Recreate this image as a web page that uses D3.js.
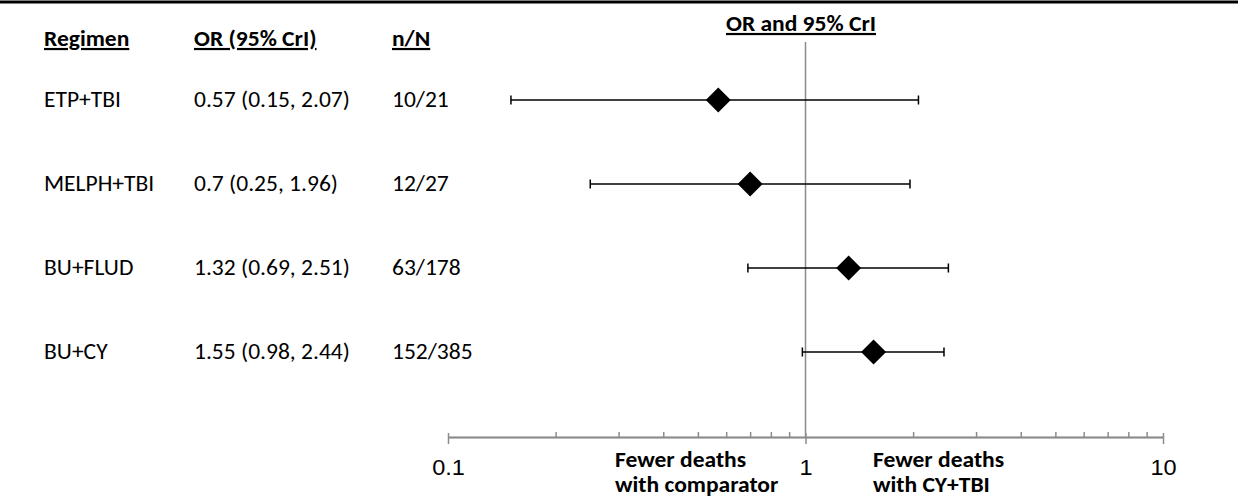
<!DOCTYPE html>
<html>
<head>
<meta charset="utf-8">
<script src="https://cdn.jsdelivr.net/npm/d3@7"></script>
<style>
  body { margin: 0; background: #fff; }
  svg { display: block; font-family: Carlito, Lato, "Open Sans", sans-serif; }
</style>
</head>
<body>
<svg id="chart" width="1238" height="502"></svg>
<script>
// Data
const regimens = ['ETP+TBI', 'MELPH+TBI', 'BU+FLUD', 'BU+CY'];
const oddsRatios = [0.57, 0.7, 1.32, 1.55];
const lowerCrI = [0.15, 0.25, 0.69, 0.98];
const upperCrI = [2.07, 1.96, 2.51, 2.44];
const nOverN = ['10/21', '12/27', '63/178', '152/385'];
const majorTicks = [0.1, 1, 10];
const minorTicks = [0.2, 0.3, 0.4, 0.5, 0.6, 0.7, 0.8, 0.9, 2, 3, 4, 5, 6, 7, 8, 9];

const rows = regimens.map((r, i) => ({
  regimen: r, or: oddsRatios[i], lo: lowerCrI[i], hi: upperCrI[i], n: nOverN[i]
}));

const W = 1238;
const svg = d3.select('#chart');
const fs = 22;
const sx = 1.07; // the source text is a touch wide for its height

const x = d3.scaleLog().domain([0.1, 10]).range([448, 1163]);
const y = d3.scalePoint().domain(regimens).range([100, 352]);
const axisY = 437;
const grey = '#8c8c8c';

// helper: slightly stretched text placed by a transform
function label(sel, tx, ty, txt, bold, anchor) {
  return sel.append('text')
    .attr('transform', `translate(${tx},${ty}) scale(${sx},1)`)
    .attr('font-size', fs)
    .attr('font-weight', bold ? 'bold' : null)
    .attr('text-anchor', anchor || 'start')
    .text(txt);
}

// top rule
svg.append('line')
  .attr('x1', 0).attr('x2', W).attr('y1', 2).attr('y2', 2)
  .attr('stroke', '#000').attr('stroke-width', 3);

// column headers
[['Regimen', 44], ['OR (95% CrI)', 194], ['n/N', 392]].forEach(([t, hx]) => {
  label(svg, hx, 46, t, true).attr('text-decoration', 'underline');
});
label(svg, 801, 31, 'OR and 95% CrI', true, 'middle').attr('text-decoration', 'underline');

// row text
const rowG = svg.append('g').selectAll('g').data(rows).join('g')
  .attr('transform', d => `translate(0,${y(d.regimen) + 7})`);
rowG.each(function (d) {
  const g = d3.select(this);
  label(g, 44, 0, d.regimen);
  label(g, 194, 0, `${d.or} (${d.lo}, ${d.hi})`);
  label(g, 392, 0, d.n);
});

// reference line at OR = 1
svg.append('line')
  .attr('x1', x(1)).attr('x2', x(1))
  .attr('y1', 42).attr('y2', axisY)
  .attr('stroke', grey).attr('stroke-width', 1.5);

// x axis
const axisG = svg.append('g').attr('transform', `translate(0,${axisY})`);
axisG.append('g')
  .call(d3.axisBottom(x).tickValues(majorTicks).tickSize(7).tickSizeOuter(0)
    .tickFormat(d => d3.format('~g')(d)))
  .call(g => g.selectAll('text')
    .attr('y', null).attr('dy', null)
    .attr('transform', `translate(0,38) scale(${sx},1)`)
    .attr('font-size', fs).attr('font-family', null).attr('fill', '#000'));
axisG.append('g')
  .call(d3.axisTop(x).tickValues(majorTicks).tickSize(4).tickSizeOuter(0).tickFormat(''));
axisG.append('g')
  .call(d3.axisTop(x).tickValues(minorTicks).tickSize(5).tickSizeOuter(0).tickFormat(''));
axisG.selectAll('path, line').attr('stroke', grey).attr('stroke-width', 1.5);

// direction labels
[[['Fewer deaths', 'with comparator'], 615], [['Fewer deaths', 'with CY+TBI'], 873]]
  .forEach(([lines, lx]) => {
    lines.forEach((t, i) => label(svg, lx, 467 + i * 25, t, true));
  });

// error bars
const capH = 4.5;
const bars = svg.append('g').selectAll('g').data(rows).join('g')
  .attr('transform', d => `translate(0,${y(d.regimen)})`);
bars.append('line')
  .attr('x1', d => x(d.lo)).attr('x2', d => x(d.hi))
  .attr('stroke', '#000').attr('stroke-width', 1.5);
['lo', 'hi'].forEach(k => {
  bars.append('line')
    .attr('x1', d => x(d[k])).attr('x2', d => x(d[k]))
    .attr('y1', -capH).attr('y2', capH)
    .attr('stroke', '#000').attr('stroke-width', 1.5);
});

// diamonds
const dm = 12.5;
bars.append('path')
  .attr('d', d => {
    const cx = x(d.or);
    return `M${cx},${-dm}L${cx + dm},0L${cx},${dm}L${cx - dm},0Z`;
  })
  .attr('fill', '#000');
</script>
</body>
</html>
